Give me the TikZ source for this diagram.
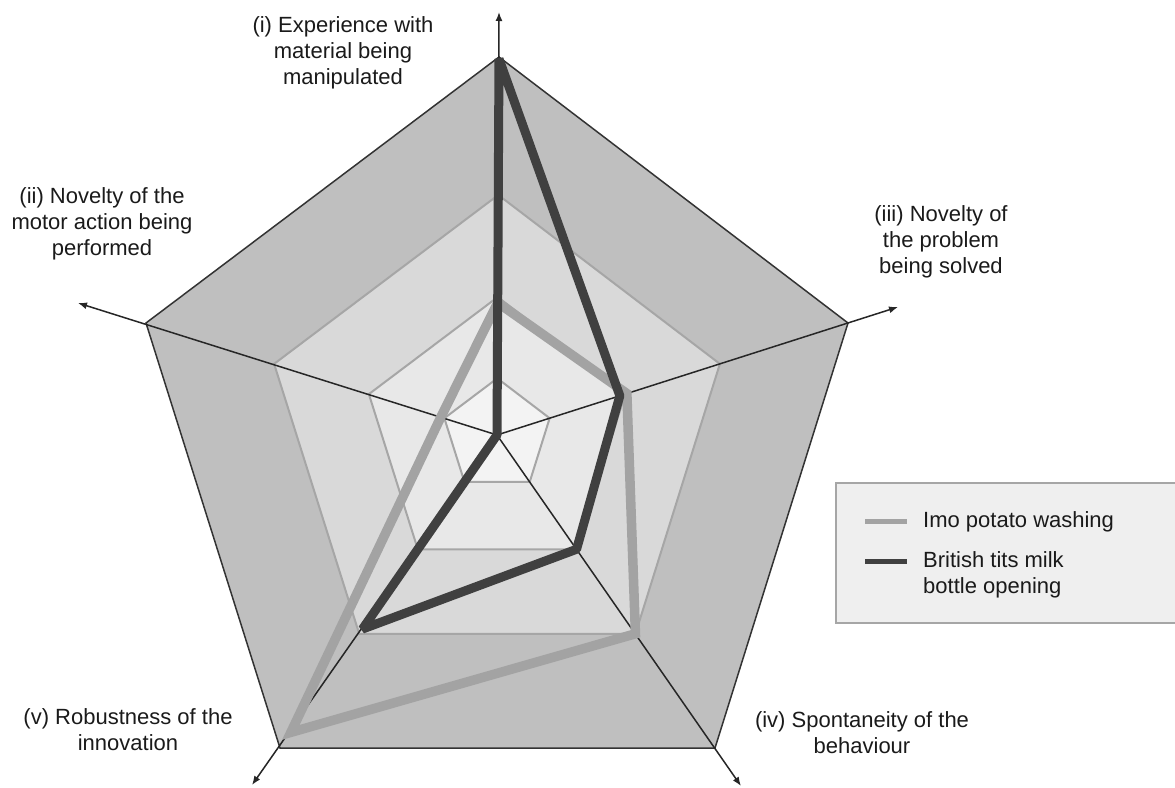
\documentclass[tikz,border=0pt]{standalone}
\usepackage{fontspec}
\setmainfont{Liberation Sans}
\usetikzlibrary{calc,arrows.meta}
\definecolor{bandA}{HTML}{BFBFBF}
\definecolor{bandB}{HTML}{D9D9D9}
\definecolor{bandC}{HTML}{E8E8E8}
\definecolor{bandD}{HTML}{F3F3F3}
\definecolor{ringline}{HTML}{A6A6A6}
\definecolor{imocol}{HTML}{A3A3A3}
\definecolor{titcol}{HTML}{404040}
\definecolor{legfill}{HTML}{EFEFEF}
\definecolor{txt}{HTML}{1A1A1A}
\begin{document}
\begin{tikzpicture}[x=1pt,y=-1pt,
  axisline/.style={line width=1.5pt, draw=black!85, -{Latex[length=9pt,width=7pt]}},
  ringpoly/.style={line width=2pt, draw=ringline},
  outerpoly/.style={line width=1.5pt, draw=black!80, fill=bandA},
  imoline/.style={line width=9.5pt, draw=imocol, line join=miter},
  titline/.style={line width=9pt, draw=titcol, line join=bevel},
  lbl/.style={font=\fontsize{22}{26}\selectfont, align=center, inner sep=0pt, text=txt},
  legbox/.style={draw=ringline, line width=2pt, fill=legfill}
]
\useasboundingbox (0,0) rectangle (1175,787);
% centre and outer vertices
\coordinate (C) at (497,435);
\coordinate (V1) at (499,57);
\coordinate (V3) at (848,323);
\coordinate (V4) at (715,748);
\coordinate (V5) at (280,748);
\coordinate (V2) at (146,323);
% axis tips
\coordinate (A1) at (499,12);
\coordinate (A3) at (898,307);
\coordinate (A4) at (741,786);
\coordinate (A5) at (252,785);
\coordinate (A2) at (78,303);
% outer pentagon
\draw[outerpoly] (V1) -- (V3) -- (V4) -- (V5) -- (V2) -- cycle;
% inner rings
\foreach \f/\col in {0.635/bandB, 0.365/bandC, 0.15/bandD}{
  \draw[ringpoly, fill=\col] ($(C)!\f!(V1)$) -- ($(C)!\f!(V3)$) -- ($(C)!\f!(V4)$) -- ($(C)!\f!(V5)$) -- ($(C)!\f!(V2)$) -- cycle;
}
% axes
\foreach \a in {A1,A2,A3,A4,A5}{
  \draw[axisline] (C) -- (\a);
}
% data
\draw[imoline] ($(C)!0.35!(V1)$) -- ($(C)!0.37!(V3)$) -- ($(C)!0.635!(V4)$) -- ($(C)!0.95!(V5)$) -- ($(C)!0.16!(V2)$) -- cycle;
\draw[titline] ($(C)!0.995!(V1)$) -- ($(C)!0.35!(V3)$) -- ($(C)!0.365!(V4)$) -- ($(C)!0.62!(V5)$) -- (C) -- cycle;
% labels
\node[lbl, anchor=north] (L1) at (343,16) {(i) Experience with\\material being\\manipulated};
\node[lbl, anchor=north] (L2) at (102,187) {(ii) Novelty of the\\motor action being\\performed};
\node[lbl, anchor=north] (L3) at (941,205) {(iii) Novelty of\\the problem\\being solved};
\node[lbl, anchor=north] (L4) at (862,711) {(iv) Spontaneity of the\\behaviour};
\node[lbl, anchor=north] (L5) at (128,708) {(v) Robustness of the\\innovation};
% legend
\draw[legbox] (836,483) rectangle (1190,623);
\coordinate (K1a) at (865,521);
\coordinate (K1b) at (907,521);
\coordinate (K2a) at (865,561);
\coordinate (K2b) at (907,561);
\draw[line width=5pt, draw=imocol] (K1a) -- (K1b);
\draw[line width=5pt, draw=titcol] (K2a) -- (K2b);
\node[lbl, anchor=base west] (T1) at (923,527) {Imo potato washing};
\node[lbl, align=left, anchor=north west] (T2) at (923,551) {British tits milk\\bottle opening};
\end{tikzpicture}
\end{document}
